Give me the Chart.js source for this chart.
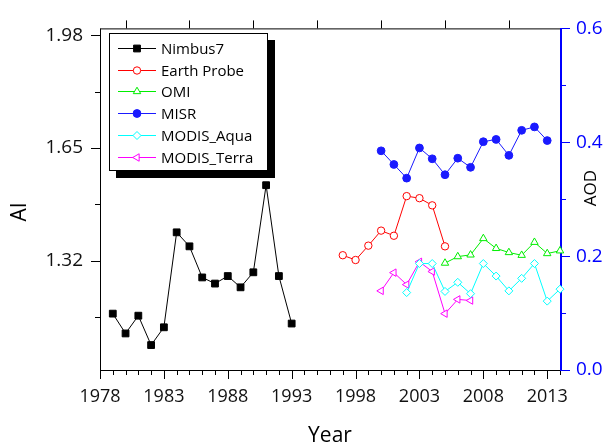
<!DOCTYPE html>
<html>
<head>
<meta charset="utf-8">
<script src="https://cdn.jsdelivr.net/npm/chart.js@4.4.0/dist/chart.umd.min.js"></script>
<style>
  html, body { margin: 0; padding: 0; background: #fff; }
</style>
</head>
<body>
<canvas id="chart" width="606" height="446"></canvas>
<script>
// values
const nimbusYears = [1979, 1980, 1981, 1982, 1983, 1984, 1985, 1986, 1987, 1988, 1989, 1990, 1991, 1992, 1993];
const nimbusAI = [1.165, 1.107, 1.159, 1.073, 1.125, 1.403, 1.362, 1.271, 1.253, 1.275, 1.242, 1.286, 1.541, 1.275, 1.136];

const earthYears = [1997, 1998, 1999, 2000, 2001, 2002, 2003, 2004, 2005];
const earthAI = [1.336, 1.322, 1.364, 1.408, 1.393, 1.509, 1.503, 1.482, 1.362];

const omiYears = [2005, 2006, 2007, 2008, 2009, 2010, 2011, 2012, 2013, 2014];
const omiAI = [1.313, 1.332, 1.337, 1.385, 1.356, 1.344, 1.336, 1.374, 1.341, 1.349];

const misrYears = [2000, 2001, 2002, 2003, 2004, 2005, 2006, 2007, 2008, 2009, 2010, 2011, 2012, 2013];
const misrAOD = [0.385, 0.361, 0.337, 0.390, 0.371, 0.343, 0.372, 0.356, 0.401, 0.405, 0.377, 0.421, 0.427, 0.403];

const aquaYears = [2002, 2003, 2004, 2005, 2006, 2007, 2008, 2009, 2010, 2011, 2012, 2013, 2014];
const aquaAOD = [0.136, 0.187, 0.187, 0.138, 0.154, 0.134, 0.187, 0.165, 0.139, 0.161, 0.187, 0.121, 0.142];

const terraYears = [2000, 2001, 2002, 2003, 2004, 2005, 2006, 2007];
const terraAOD = [0.139, 0.171, 0.150, 0.190, 0.173, 0.099, 0.124, 0.122];

const yearTicks = [1978, 1983, 1988, 1993, 1998, 2003, 2008, 2013];
const aiTicks = [1.32, 1.65, 1.98];
const aiMinorTicks = [1.155, 1.485, 1.815];
const aodTicks = [0, 0.2, 0.4, 0.6];
const aodMinorTicks = [0.1, 0.3, 0.5];
const topTicks = [1980, 1985, 1990, 1995, 2000, 2005, 2010];

function pts(xs, ys) {
  return xs.map((x, i) => ({ x: x, y: ys[i] }));
}

function series(label, xs, ys, axis, color, style, fill, radius, rot) {
  return {
    label: label,
    data: pts(xs, ys),
    yAxisID: axis,
    borderColor: color,
    backgroundColor: fill,
    borderWidth: 1,
    pointStyle: style,
    pointRotation: rot || 0,
    pointRadius: radius,
    pointBorderColor: color,
    pointBackgroundColor: fill,
    pointBorderWidth: 1,
    tension: 0,
    clip: false
  };
}

const FONT = '"Open Sans", "DejaVu Sans", sans-serif';

const frame = {
  id: 'frame',
  beforeDatasetsDraw(chart) {
    const ctx = chart.ctx;
    const a = chart.chartArea;
    const sx = chart.scales.x, sl = chart.scales.yAI, sr = chart.scales.yAOD;
    function seg(x1, y1, x2, y2) {
      ctx.beginPath(); ctx.moveTo(x1, y1); ctx.lineTo(x2, y2); ctx.stroke();
    }
    ctx.save();
    ctx.strokeStyle = '#000';
    ctx.lineWidth = 1;
    seg(a.left + 0.5, a.top + 0.5, a.right, a.top + 0.5);
    seg(a.left + 0.5, a.top, a.left + 0.5, a.bottom + 0.5);
    seg(a.left, a.bottom + 0.5, a.right, a.bottom + 0.5);

    for (let yr = 1978; yr <= 2014; yr++) {
      const px = Math.round(sx.getPixelForValue(yr)) + 0.5;
      const len = yearTicks.includes(yr) ? 9 : 5;
      seg(px, a.bottom, px, a.bottom + len);
    }
    topTicks.forEach(yr => {
      const px = Math.round(sx.getPixelForValue(yr)) + 0.5;
      seg(px, a.top, px, a.top - 8);
    });
    aiTicks.forEach(v => {
      const py = Math.round(sl.getPixelForValue(v)) + 0.5;
      seg(a.left, py, a.left - 9, py);
    });
    aiMinorTicks.forEach(v => {
      const py = Math.round(sl.getPixelForValue(v)) + 0.5;
      seg(a.left, py, a.left - 5, py);
    });

    ctx.strokeStyle = '#0000ff';
    ctx.lineWidth = 2;
    seg(a.right + 1, a.top, a.right + 1, a.bottom + 1);
    ctx.lineWidth = 1;
    aodTicks.forEach(v => {
      const py = Math.round(sr.getPixelForValue(v)) + 0.5;
      seg(a.right, py, a.right + 10, py);
    });
    aodMinorTicks.forEach(v => {
      const py = Math.round(sr.getPixelForValue(v)) + 0.5;
      seg(a.right, py, a.right + 6, py);
    });

    // axis titles
    ctx.fillStyle = '#000';
    ctx.textAlign = 'center';
    ctx.textBaseline = 'middle';
    ctx.font = '21px ' + FONT;
    ctx.fillText('Year', (a.left + a.right) / 2, 436);
    ctx.save();
    ctx.translate(20, 212);
    ctx.rotate(-Math.PI / 2);
    ctx.fillText('AI', 0, 0);
    ctx.restore();
    ctx.save();
    ctx.translate(591, 188);
    ctx.rotate(-Math.PI / 2);
    ctx.font = '17px ' + FONT;
    ctx.fillText('AOD', 0, 0);
    ctx.restore();
    ctx.restore();
  },
  afterDatasetsDraw(chart) {
    const ctx = chart.ctx;
    ctx.save();
    ctx.fillStyle = '#000';
    ctx.fillRect(116, 40, 159, 138);
    ctx.fillStyle = '#fff';
    ctx.fillRect(109, 33, 159, 138);
    ctx.strokeStyle = '#000';
    ctx.lineWidth = 1;
    ctx.strokeRect(109.5, 33.5, 158, 137);
    ctx.font = '15px ' + FONT;
    ctx.textAlign = 'left';
    ctx.textBaseline = 'middle';
    chart.data.datasets.forEach((ds, i) => {
      const y = Math.round(48 + i * 21.7) + 0.5;
      ctx.strokeStyle = ds.borderColor;
      ctx.lineWidth = 1;
      ctx.beginPath(); ctx.moveTo(118, y); ctx.lineTo(156, y); ctx.stroke();
      ctx.fillStyle = ds.pointBackgroundColor;
      ctx.strokeStyle = ds.pointBorderColor;
      Chart.helpers.drawPoint(ctx, {
        pointStyle: ds.pointStyle,
        rotation: ds.pointRotation,
        radius: ds.pointRadius,
        borderWidth: 1
      }, 137, y);
      ctx.fillStyle = '#000';
      ctx.fillText(ds.label, 161, y + 1);
    });
    ctx.restore();
  }
};

new Chart(document.getElementById('chart'), {
  type: 'line',
  data: {
    datasets: [
      series('Nimbus7', nimbusYears, nimbusAI, 'yAI', '#000000', 'rect', '#000000', 4.8),
      series('Earth Probe', earthYears, earthAI, 'yAI', '#ff0000', 'circle', '#ffffff', 3.7),
      series('OMI', omiYears, omiAI, 'yAI', '#00ee00', 'triangle', '#ffffff', 4.3),
      series('MISR', misrYears, misrAOD, 'yAOD', '#1a1aff', 'circle', '#1a1aff', 3.9),
      series('MODIS_Aqua', aquaYears, aquaAOD, 'yAOD', '#00ffff', 'rectRot', '#ffffff', 4),
      series('MODIS_Terra', terraYears, terraAOD, 'yAOD', '#ff00ff', 'triangle', '#ffffff', 4.3, -90)
    ]
  },
  options: {
    responsive: false,
    animation: false,
    events: [],
    layout: { padding: { top: 20, left: 0, right: 0, bottom: 0 } },
    plugins: { legend: { display: false }, tooltip: { enabled: false } },
    scales: {
      x: {
        type: 'linear',
        position: 'bottom',
        min: 1978,
        max: 2014,
        grid: { display: false, drawTicks: false },
        border: { display: false },
        afterBuildTicks: s => { s.ticks = yearTicks.map(v => ({ value: v })); },
        afterFit: s => { s.height = 76; },
        ticks: {
          autoSkip: false,
          maxRotation: 0,
          padding: 16,
          color: '#111',
          font: { family: FONT, size: 18 },
          callback: v => String(v)
        }
      },
      yAI: {
        type: 'linear',
        position: 'left',
        min: 1.0,
        max: 2.0,
        grid: { display: false, drawTicks: false },
        border: { display: false },
        afterBuildTicks: s => { s.ticks = aiTicks.map(v => ({ value: v })); },
        afterFit: s => { s.width = 100; },
        ticks: {
          padding: 17,
          color: '#111',
          font: { family: FONT, size: 19 },
          callback: v => v.toFixed(2)
        }
      },
      yAOD: {
        type: 'linear',
        position: 'right',
        min: 0,
        max: 0.6,
        grid: { display: false, drawTicks: false },
        border: { display: false },
        afterBuildTicks: s => { s.ticks = aodTicks.map(v => ({ value: v })); },
        afterFit: s => { s.width = 46; },
        ticks: {
          padding: 16,
          color: '#0000ff',
          font: { family: FONT, size: 19 },
          callback: v => v.toFixed(1)
        }
      }
    }
  },
  plugins: [frame]
});
</script>
</body>
</html>
